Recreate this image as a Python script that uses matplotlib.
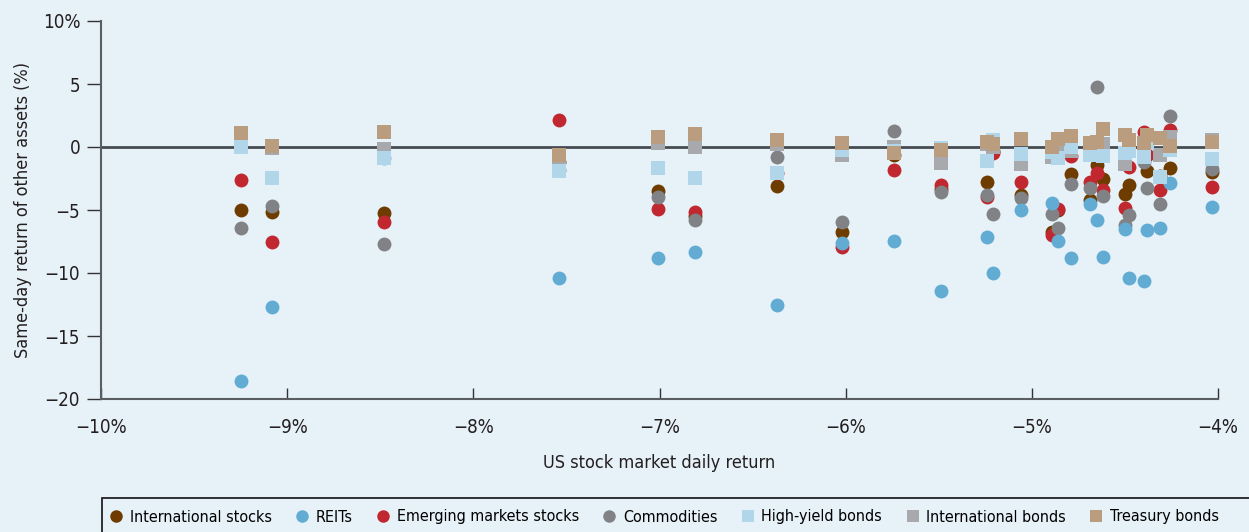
import matplotlib
matplotlib.use("Agg")
from matplotlib import pyplot as plt
from matplotlib import font_manager as fm
from matplotlib.lines import Line2D
from matplotlib.patches import Rectangle

# US stock market daily return (%) for each big down day
us_return = [-9.25, -9.08, -8.48, -7.54, -7.01, -6.81, -6.37, -6.02, -5.74, -5.49,
             -5.24, -5.21, -5.06, -4.89, -4.86, -4.79, -4.69, -4.65, -4.62, -4.50,
             -4.48, -4.40, -4.38, -4.31, -4.26, -4.03]

# same-day returns of other assets (%)
intl_stocks = [-5.0, -5.16, -5.21, -1.2, -3.47, -5.5, -3.07, -6.77, -0.6, -3.3,
               -2.75, -0.3, -3.81, -6.72, -5.0, -2.17, -4.2, -1.43, -2.56, -3.75,
               -3.02, -0.9, -1.9, -2.3, -1.64, -1.96]
reits = [-18.6, -12.72, -0.85, -10.4, -8.8, -8.33, -12.57, -7.64, -7.43, -11.4,
         -7.12, -10.03, -5.0, -4.44, -7.45, -8.78, -4.52, -5.83, -8.7, -6.5,
         -10.42, -10.63, -6.6, -6.4, -2.83, -4.76]
em_stocks = [-2.6, -7.54, -5.95, 2.14, -4.92, -5.19, -2.1, -7.9, -1.83, -3.0,
             -4.0, -0.5, -2.75, -6.98, -4.95, -0.71, -2.75, -2.04, -3.41, -4.87,
             -1.56, 1.22, -0.6, -3.41, 1.38, -3.15]
commodities = [-6.4, -4.68, -7.7, -1.8, -4.0, -5.82, -0.77, -5.98, 1.27, -3.6,
               -3.81, -5.32, -4.02, -5.34, -6.45, -2.96, -3.28, 4.79, -3.92, -6.2,
               -5.37, -1.17, -3.22, -4.54, 2.49, -1.77]
hy_bonds = [0.0, -2.46, -0.87, -1.87, -1.67, -2.46, -2.1, -0.24, -0.3, -0.08,
            -1.09, 0.55, -0.55, -0.4, -0.91, 0.0, -0.63, -0.3, -0.69, -0.45,
            -0.3, -0.8, 0.3, -2.35, -0.24, -0.98]
intl_bonds = [0.0, -0.08, -0.16, -1.0, 0.3, 0.0, 0.2, -0.63, 0.0, -1.27,
              0.2, 0.0, -1.32, -0.8, -0.3, -0.3, 0.0, 0.0, 0.24, -1.33,
              0.0, 0.0, 0.5, -0.63, 0.8, 0.55]
treasury = [1.1, 0.08, 1.19, -0.63, 0.82, 1.03, 0.53, 0.32, -0.48, -0.24,
            0.37, 0.2, 0.62, 0.02, 0.6, 0.87, 0.34, 0.37, 1.4, 0.95,
            0.52, 0.34, 0.95, 0.69, 0.1, 0.42]

xticks = [-10, -9, -8, -7, -6, -5, -4]
yticks = [10, 5, 0, -5, -10, -15, -20]

BG = '#e6f1f8'

# the original uses a condensed face; take one if there is any installed
family, stretch, fsize = 'Roboto', 'normal', 12
for f in fm.fontManager.ttflist:
	narrow = ('Narrow' in f.name or 'Condensed' in f.name
	          or f.stretch in ('condensed', 'semi-condensed'))
	if narrow and f.style == 'normal' and f.weight in (400, 'normal', 'regular'):
		family, stretch, fsize = f.name, f.stretch, 13
		break

plt.rcParams['font.family'] = [family, 'DejaVu Sans']
plt.rcParams['font.stretch'] = stretch
plt.rcParams['font.size'] = fsize

series = [
	# label, data, marker, colour, zorder
	('International stocks', intl_stocks, 'o', '#6f3c00', 3),
	('REITs', reits, 'o', '#62acd4', 6),
	('Emerging markets stocks', em_stocks, 'o', '#c1272f', 4),
	('Commodities', commodities, 'o', '#808285', 5),
	('High-yield bonds', hy_bonds, 's', '#b1d6ea', 8),
	('International bonds', intl_bonds, 's', '#a7a9ac', 7),
	('Treasury bonds', treasury, 's', '#b99d7e', 9),
]

fig = plt.figure(figsize=(12.49, 5.32), dpi=100, facecolor=BG)
ax = fig.add_axes([101/1249, 133/532, 1117/1249, 378/532])
ax.set_facecolor(BG)

for label, vals, marker, color, z in series:
	ax.scatter(us_return, vals, s=100 if marker == 'o' else 110, marker=marker,
	           color=color, linewidths=0, zorder=z, clip_on=False)

ax.axhline(0, color='#464b50', lw=2, zorder=2)

ax.set_xlim(-10, -4)
ax.set_ylim(-20, 10)
ax.set_xticks(xticks)
ax.set_xticklabels(['\u2212%d%%' % abs(t) for t in xticks])
ax.set_yticks(yticks)
ax.set_yticklabels(['10%'] + [('\u2212%d' % abs(t)) if t < 0 else str(t) for t in yticks[1:]])

for side in ('top', 'right'):
	ax.spines[side].set_visible(False)
for side in ('left', 'bottom'):
	ax.spines[side].set_color('#5a5e62')
	ax.spines[side].set_linewidth(1.5)

ax.tick_params(axis='x', direction='in', length=8, width=1, pad=14, labelsize=fsize + 0.5)
ax.tick_params(axis='y', direction='out', length=10, width=1, pad=5, labelsize=fsize + 0.5)
ax.tick_params(axis='both', colors='#333333', labelcolor='#231f20')

ax.set_xlabel('US stock market daily return', labelpad=12, color='#231f20')
ax.set_ylabel('Same-day return of other assets (%)', labelpad=8, color='#231f20')

# legend box runs off the right and bottom of the figure
box = Rectangle((102/1249, -0.2), 1.0, 0.2 + 34/532, transform=fig.transFigure,
                fill=False, edgecolor='#111111', lw=1.2, clip_on=False)
fig.patches.append(box)

handles = []
for label, vals, marker, color, z in series:
	handles.append(Line2D([], [], ls='none', marker=marker, markersize=9,
	                      markerfacecolor=color, markeredgewidth=0, label=label))

# shrink the legend text until the row ends inside the figure, like the original
renderer = fig.canvas.get_renderer()
for lsize in (12.5, 12, 11.5, 11, 10.5, 10, 9.5, 9, 8.5, 8):
	leg = fig.legend(handles=handles, ncol=7, frameon=False, loc='center left',
	                 fontsize=lsize, bbox_to_anchor=(110/1249, 15/532),
	                 handlelength=0.8, handletextpad=0.45, columnspacing=1.5,
	                 borderaxespad=0, borderpad=0)
	if leg.get_window_extent(renderer).x1 <= 1238:
		break
	leg.remove()

fig.savefig('out.png', dpi=100, facecolor=BG)
